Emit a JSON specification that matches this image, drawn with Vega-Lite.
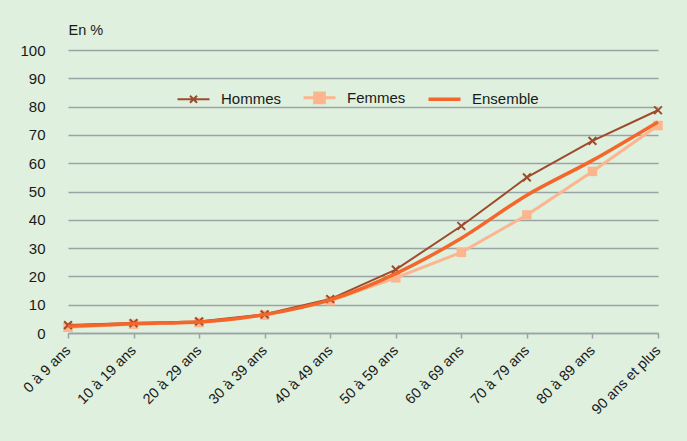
{
  "$schema": "https://vega.github.io/schema/vega-lite/v6.json",
  "width": 590,
  "height": 283,
  "autosize": {"type": "none"},
  "padding": {"left": 68, "top": 50, "right": 29, "bottom": 108},
  "background": "#dff0de",
  "config": {
    "view": {"stroke": null},
    "font": "Liberation Sans",
    "axis": {"labelFont": "Liberation Sans", "titleFont": "Liberation Sans"}
  },
  "data": {
    "values": [
      {"age": "0 à 9 ans", "serie": "Hommes", "valeur": 2.8},
      {"age": "10 à 19 ans", "serie": "Hommes", "valeur": 3.5},
      {"age": "20 à 29 ans", "serie": "Hommes", "valeur": 4.1},
      {"age": "30 à 39 ans", "serie": "Hommes", "valeur": 6.6},
      {"age": "40 à 49 ans", "serie": "Hommes", "valeur": 12.0},
      {"age": "50 à 59 ans", "serie": "Hommes", "valeur": 22.4},
      {"age": "60 à 69 ans", "serie": "Hommes", "valeur": 37.8},
      {"age": "70 à 79 ans", "serie": "Hommes", "valeur": 55.0},
      {"age": "80 à 89 ans", "serie": "Hommes", "valeur": 67.9},
      {"age": "90 ans et plus", "serie": "Hommes", "valeur": 78.7},
      {"age": "0 à 9 ans", "serie": "Femmes", "valeur": 2.0},
      {"age": "10 à 19 ans", "serie": "Femmes", "valeur": 3.1},
      {"age": "20 à 29 ans", "serie": "Femmes", "valeur": 3.7},
      {"age": "30 à 39 ans", "serie": "Femmes", "valeur": 6.3},
      {"age": "40 à 49 ans", "serie": "Femmes", "valeur": 11.4},
      {"age": "50 à 59 ans", "serie": "Femmes", "valeur": 19.5},
      {"age": "60 à 69 ans", "serie": "Femmes", "valeur": 28.5},
      {"age": "70 à 79 ans", "serie": "Femmes", "valeur": 41.7},
      {"age": "80 à 89 ans", "serie": "Femmes", "valeur": 57.1},
      {"age": "90 ans et plus", "serie": "Femmes", "valeur": 73.3},
      {"age": "0 à 9 ans", "serie": "Ensemble", "valeur": 2.4},
      {"age": "10 à 19 ans", "serie": "Ensemble", "valeur": 3.3},
      {"age": "20 à 29 ans", "serie": "Ensemble", "valeur": 3.9},
      {"age": "30 à 39 ans", "serie": "Ensemble", "valeur": 6.5},
      {"age": "40 à 49 ans", "serie": "Ensemble", "valeur": 11.7},
      {"age": "50 à 59 ans", "serie": "Ensemble", "valeur": 21.0},
      {"age": "60 à 69 ans", "serie": "Ensemble", "valeur": 33.5},
      {"age": "70 à 79 ans", "serie": "Ensemble", "valeur": 48.7},
      {"age": "80 à 89 ans", "serie": "Ensemble", "valeur": 61.0},
      {"age": "90 ans et plus", "serie": "Ensemble", "valeur": 74.6}
    ]
  },
  "encoding": {
    "x": {
      "field": "age", "type": "ordinal", "sort": null,
      "scale": {"type": "point", "padding": 0},
      "axis": {
        "title": null, "labelAngle": -45, "labelAlign": "right", "labelBaseline": "middle",
        "labelFontSize": 14.5, "labelColor": "#1a1a1a", "labelPadding": 10,
        "domainColor": "#9aa3a6", "domainWidth": 1.5,
        "tickColor": "#9aa3a6", "tickWidth": 1.5, "tickSize": 5,
        "grid": false
      }
    },
    "y": {
      "field": "valeur", "type": "quantitative",
      "scale": {"domain": [0, 100], "nice": false},
      "axis": {
        "title": "En %", "titleAngle": 0, "titleAlign": "left", "titleBaseline": "middle",
        "titleX": 0, "titleY": -20, "titleFontSize": 14.5, "titleFontWeight": "normal", "titleColor": "#1a1a1a",
        "values": [0, 10, 20, 30, 40, 50, 60, 70, 80, 90, 100],
        "labelFontSize": 15, "labelColor": "#1a1a1a", "labelPadding": 23,
        "domain": false, "ticks": false,
        "grid": true, "gridColor": "#9aa3a6", "gridWidth": 1.5
      }
    }
  },
  "layer": [
    {
      "transform": [{"filter": "datum.serie === 'Femmes'"}],
      "mark": {"type": "line", "color": "#fbb58f", "strokeWidth": 3}
    },
    {
      "transform": [{"filter": "datum.serie === 'Femmes'"}],
      "mark": {"type": "point", "shape": "square", "filled": true, "color": "#fbb58f", "size": 90, "opacity": 1}
    },
    {
      "transform": [{"filter": "datum.serie === 'Hommes'"}],
      "mark": {"type": "line", "strokeWidth": 2},
      "encoding": {
        "color": {
          "field": "serie", "type": "nominal",
          "scale": {"domain": ["Hommes", "Femmes", "Ensemble"], "range": ["#9e4b2c", "#fbb58f", "#f4662a"]},
          "legend": {
            "title": null, "orient": "none", "direction": "horizontal",
            "legendX": 118, "legendY": 40, "padding": 0,
            "symbolSize": 1024, "symbolStrokeWidth": 2.5,
            "labelFontSize": 15, "labelColor": "#1a1a1a", "labelOffset": 20,
            "columnPadding": 15,
            "encode": {
              "symbols": {
                "update": {
                  "shape": {"signal": "datum.value === 'Hommes' ? 'M-1,0L1,0M-0.22,-0.22L0.22,0.22M-0.22,0.22L0.22,-0.22' : datum.value === 'Femmes' ? 'M-1,0L1,0M-0.3,-0.3L0.3,-0.3L0.3,0.3L-0.3,0.3Z' : 'M-1,0L1,0'"},
                  "stroke": {"signal": "datum.value === 'Hommes' ? '#9e4b2c' : datum.value === 'Femmes' ? '#fbb58f' : '#f4662a'"},
                  "fill": {"signal": "datum.value === 'Femmes' ? '#fbb58f' : 'transparent'"},
                  "strokeWidth": {"signal": "datum.value === 'Hommes' ? 2 : datum.value === 'Femmes' ? 3 : 3.5"}
                }
              }
            }
          }
        }
      }
    },
    {
      "transform": [{"filter": "datum.serie === 'Hommes'"}],
      "mark": {"type": "point", "shape": "M-1,-1L1,1M-1,1L1,-1", "filled": false, "color": "#9e4b2c", "size": 60, "strokeWidth": 2, "opacity": 1}
    },
    {
      "transform": [{"filter": "datum.serie === 'Ensemble'"}],
      "mark": {"type": "line", "color": "#f4662a", "strokeWidth": 3.5, "interpolate": "monotone"}
    }
  ]
}
